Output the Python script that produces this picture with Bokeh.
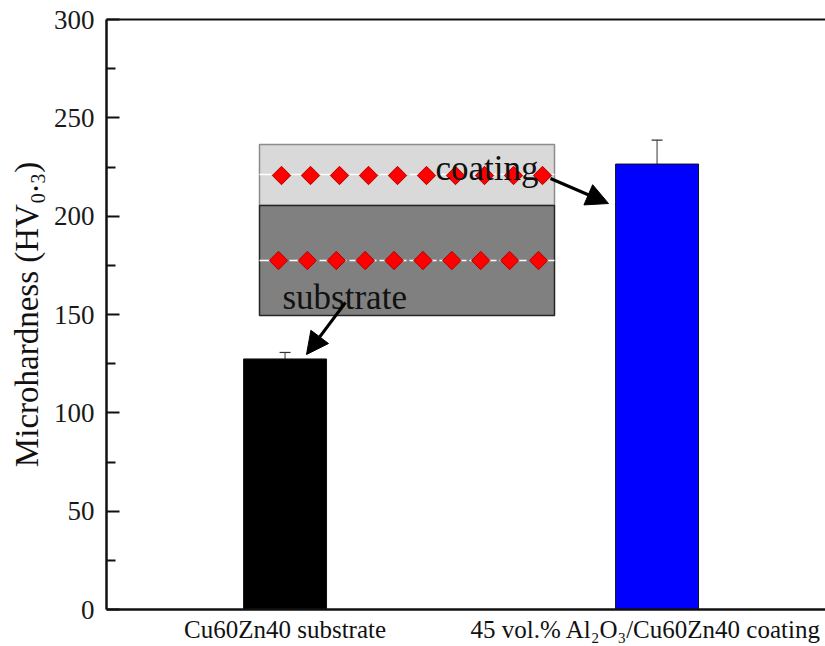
import numpy as np
from bokeh.plotting import figure
from bokeh.models import (ColumnDataSource, Whisker, TeeHead, Arrow, NormalHead, Label,
                          LinearAxis, FixedTicker, Range1d)
from bokeh.embed import file_html
from bokeh.resources import INLINE

# ---------------- data ----------------
categories = ["Cu60Zn40 substrate", "45 vol.% Al\u2082O\u2083/Cu60Zn40 coating"]
hardness = [127.4, 226.5]
hardness_err = [3.3, 12.2]
bar_colors = ["#000000", "#0000ff"]
y_ticks = [0, 50, 100, 150, 200, 250, 300]
category_label_pos = [1.0, 1.97]          # where the category names sit under the axis
y_title = "Microhardness (HV\u2080.\u2083)"
inset_labels = ["coating", "substrate"]

# ---------------- layout constants ----------------
FONT = "Liberation Serif"
W, H = 825, 646
LEFT, TOP, BOTTOM = 106, 19, 609
PX_PER_X = 372.0
X0 = 0.52
PX_PER_Y = (BOTTOM - TOP) / 300.0


def xd(px):
    """picture x (px) -> data x"""
    return X0 + (px - LEFT) / PX_PER_X


def yd(py):
    """picture y (px) -> data y"""
    return (BOTTOM - py) / PX_PER_Y


positions = [i + 1 for i in range(len(categories))]

p = figure(width=W, height=H, output_backend="svg", toolbar_location=None,
           x_range=Range1d(X0, xd(W)), y_range=Range1d(0, 300),
           min_border_left=LEFT, min_border_right=0, min_border_top=TOP,
           min_border_bottom=H - BOTTOM)
p.outline_line_color = None
p.grid.visible = False

# y axis
ya = p.yaxis[0]
ya.ticker = FixedTicker(ticks=y_ticks,
                        minor_ticks=[(a + b) / 2 for a, b in zip(y_ticks[:-1], y_ticks[1:])])
ya.axis_line_width = 2.5
ya.axis_line_color = "#111111"
ya.major_tick_in = 13
ya.major_tick_out = 0
ya.minor_tick_in = 9
ya.minor_tick_out = 0
ya.major_tick_line_width = 2
ya.minor_tick_line_width = 2
ya.major_tick_line_color = "#111111"
ya.minor_tick_line_color = "#111111"
ya.major_label_text_font = FONT
ya.major_label_text_font_size = "27px"
ya.major_label_text_color = "#1a1a1a"
ya.major_label_standoff = 12
ya.axis_label = y_title
ya.axis_label_text_font = FONT
ya.axis_label_text_font_size = "33px"
ya.axis_label_text_font_style = "normal"
ya.axis_label_text_color = "#111111"
ya.axis_label_standoff = 6

# x axis: line + category names
xa = p.xaxis[0]
xa.ticker = FixedTicker(ticks=category_label_pos)
xa.major_label_overrides = {pos: name for pos, name in zip(category_label_pos, categories)}
xa.axis_line_width = 2.5
xa.axis_line_color = "#111111"
xa.major_tick_out = 0
xa.major_tick_in = 0
xa.minor_tick_out = 0
xa.minor_tick_in = 0
xa.major_label_text_font = FONT
xa.major_label_text_font_size = "25px"
xa.major_label_text_color = "#111111"
xa.major_label_standoff = 6

top = LinearAxis(ticker=FixedTicker(ticks=[]), axis_line_width=2, axis_line_color="#111111",
                 major_tick_out=0, major_tick_in=0, minor_tick_out=0, minor_tick_in=0,
                 major_label_text_font_size="0px", major_label_standoff=0)
p.add_layout(top, "above")

# bars
src = ColumnDataSource(dict(
    x=positions, top=hardness,
    upper=[h + e for h, e in zip(hardness, hardness_err)],
    lower=[h - e for h, e in zip(hardness, hardness_err)],
    color=bar_colors,
))
p.vbar(x="x", top="top", width=0.223, fill_color="color", line_color="#111111",
       line_width=1, source=src)
p.add_layout(Whisker(base="x", upper="upper", lower="lower", source=src,
                     line_color="#333333", line_width=1,
                     upper_head=TeeHead(size=11, line_color="#333333", line_width=1.2),
                     lower_head=TeeHead(size=11, line_color="#333333", line_width=1.2)))

# inset schematic
ix0, ix1 = xd(259), xd(554)
p.quad(left=[ix0], right=[ix1], bottom=[yd(205)], top=[yd(144)],
       fill_color="#d9d9d9", line_color="#8c8c8c", line_width=1.5)
p.quad(left=[ix0], right=[ix1], bottom=[yd(315)], top=[yd(205)],
       fill_color="#808080", line_color="#262626", line_width=1.5)
for ly in (yd(174), yd(260)):
    p.line(x=[ix0, ix1], y=[ly, ly], line_color="white", line_width=1.5, line_dash="12 3")
p.scatter(x=np.linspace(xd(281), xd(542), 10), y=[yd(175)] * 10, marker="square",
          angle=np.pi / 4, size=13, fill_color="#ff0000", line_color="#b00000", line_width=1)
p.scatter(x=np.linspace(xd(278), xd(538), 10), y=[yd(260)] * 10, marker="square",
          angle=np.pi / 4, size=13, fill_color="#ff0000", line_color="#b00000", line_width=1)

p.add_layout(Label(x=xd(435), y=yd(168), text=inset_labels[0], text_font=FONT,
                   text_font_size="35px", text_color="#111111",
                   text_align="left", text_baseline="alphabetic"))
p.add_layout(Label(x=xd(282), y=yd(297), text=inset_labels[1], text_font=FONT,
                   text_font_size="35px", text_color="#111111",
                   text_align="left", text_baseline="alphabetic"))

# arrows
p.add_layout(Arrow(end=NormalHead(size=22, fill_color="black", line_color="black"),
                   x_start=xd(550), y_start=yd(178), x_end=xd(608), y_end=yd(203),
                   line_width=3, line_color="black"))
p.add_layout(Arrow(end=NormalHead(size=22, fill_color="black", line_color="black"),
                   x_start=xd(345), y_start=yd(302), x_end=xd(306), y_end=yd(354),
                   line_width=3, line_color="black"))

open("out.html", "w").write(file_html(p, INLINE))
